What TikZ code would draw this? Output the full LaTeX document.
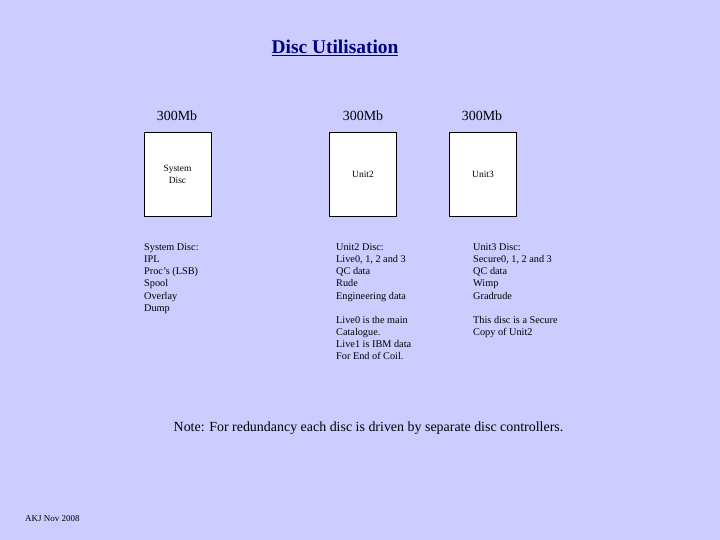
\documentclass[tikz,border=0pt]{standalone}
\usepackage{fontspec}
\setmainfont{Liberation Serif}
\definecolor{bg}{RGB}{204,204,255}
\definecolor{navy}{RGB}{0,0,128}
\begin{document}
\begin{tikzpicture}[x=1bp,y=-1bp,
  disc/.style={draw=black,fill=white,line width=0.6bp,minimum width=67bp,minimum height=84bp,inner sep=0pt,font=\fontsize{9.5}{12}\selectfont,align=center},
  sizelabel/.style={font=\fontsize{14}{16}\selectfont},
  info/.style={anchor=north west,inner sep=0pt,font=\fontsize{10.3}{12.2}\selectfont,align=left}]
\fill[bg] (0,0) rectangle (720,540);
\useasboundingbox (0,0) rectangle (720,540);
\node[font=\fontsize{19.5}{22}\bfseries,text=navy] (title) at (335,48) {\underline{Disc Utilisation}};
\node[sizelabel] (c1) at (177,116) {300Mb};
\node[sizelabel] (c2) at (363,116) {300Mb};
\node[sizelabel] (c3) at (482,116) {300Mb};
\node[disc] (d1) at (177.5,174) {System\\Disc};
\node[disc] (d2) at (363,174) {Unit2};
\node[disc] (d3) at (483,174) {Unit3};
\node[info] (t1) at (144,243.5) {System Disc:\\IPL\\Proc's (LSB)\\Spool\\Overlay\\Dump};
\node[info] (t2) at (336,243.5) {Unit2 Disc:\\Live0, 1, 2 and 3\\QC data\\Rude\\Engineering data\\[12.2bp]Live0 is the main\\Catalogue.\\Live1 is IBM data\\For End of Coil.};
\node[info] (t3) at (473,243.5) {Unit3 Disc:\\Secure0, 1, 2 and 3\\QC data\\Wimp\\Gradrude\\[12.2bp]This disc is a Secure\\Copy of Unit2};
\node[sizelabel] (note) at (368.5,428.5) {Note: For redundancy each disc is driven by separate disc controllers.};
\node[anchor=west,inner sep=0pt,font=\fontsize{9}{10}\selectfont] (akj) at (25,519) {AKJ Nov 2008};
\end{tikzpicture}
\end{document}
